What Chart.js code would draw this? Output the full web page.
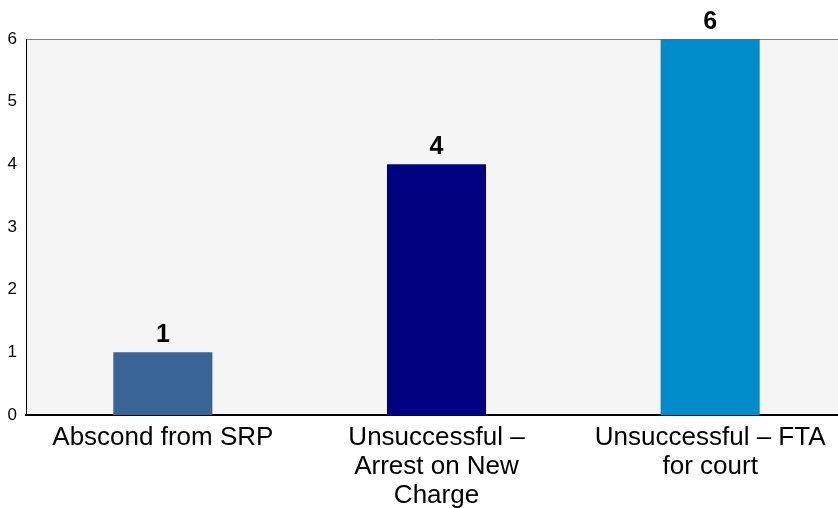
<!DOCTYPE html>
<html>
<head>
<meta charset="utf-8">
<script src="https://cdn.jsdelivr.net/npm/chart.js@4/dist/chart.umd.min.js"></script>
<style>
  html, body { margin: 0; padding: 0; background: #fff; overflow: hidden; }
  #wrap { width: 847px; height: 508px; position: relative; }
</style>
</head>
<body>
<div id="wrap"><canvas id="chart"></canvas></div>
<script>
const categories = [
  ['Abscond from SRP'],
  ['Unsuccessful \u2013', 'Arrest on New', 'Charge'],
  ['Unsuccessful \u2013 FTA', 'for court'],
];
const counts = [1, 4, 6];
const barColors = ['#386496', '#000080', '#008bcb'];
const yTicks = [0, 1, 2, 3, 4, 5, 6];

const FONT = "'Liberation Sans', Arial, sans-serif";

const plotBackground = {
  id: 'plotBackground',
  beforeDraw(chart) {
    const { ctx, chartArea } = chart;
    ctx.save();
    ctx.fillStyle = '#f5f5f5';
    ctx.fillRect(chartArea.left, chartArea.top, chartArea.right - chartArea.left, chartArea.bottom - chartArea.top);
    ctx.strokeStyle = '#808080';
    ctx.lineWidth = 1;
    ctx.beginPath();
    ctx.moveTo(chartArea.left, chartArea.top + 0.5);
    ctx.lineTo(chartArea.right, chartArea.top + 0.5);
    ctx.stroke();
    ctx.restore();
  },
};

const valueLabels = {
  id: 'valueLabels',
  afterDatasetsDraw(chart) {
    const { ctx } = chart;
    const meta = chart.getDatasetMeta(0);
    ctx.save();
    ctx.font = `bold 25px ${FONT}`;
    ctx.fillStyle = '#000';
    ctx.textAlign = 'center';
    ctx.textBaseline = 'alphabetic';
    meta.data.forEach((bar, i) => {
      ctx.fillText(String(counts[i]), bar.x, bar.y - 10);
    });
    ctx.restore();
  },
};

new Chart(document.getElementById('chart'), {
  type: 'bar',
  data: {
    labels: categories,
    datasets: [
      {
        data: counts,
        backgroundColor: barColors,
        borderWidth: 0,
        categoryPercentage: 1,
        barPercentage: 0.362,
      },
    ],
  },
  options: {
    responsive: true,
    maintainAspectRatio: false,
    animation: false,
    layout: { padding: { top: 39, right: 0, left: 0, bottom: 0 } },
    plugins: {
      legend: { display: false },
      tooltip: { enabled: false },
    },
    scales: {
      x: {
        grid: { display: false, drawTicks: false },
        border: { display: true, color: '#000', width: 2 },
        ticks: {
          color: '#000',
          padding: 8,
          maxRotation: 0,
          autoSkip: false,
          font: { family: FONT, size: 26, lineHeight: 1.12 },
        },
        afterFit: (scale) => { scale.height = 93; },
      },
      y: {
        min: 0,
        max: 6,
        grid: { display: false, drawTicks: false },
        border: { display: true, color: '#000', width: 1 },
        afterBuildTicks: (scale) => { scale.ticks = yTicks.map((v) => ({ value: v })); },
        ticks: {
          color: '#000',
          padding: 9,
          font: { family: FONT, size: 17 },
        },
        afterFit: (scale) => { scale.width = 26; },
      },
    },
  },
  plugins: [plotBackground, valueLabels],
});
</script>
</body>
</html>
